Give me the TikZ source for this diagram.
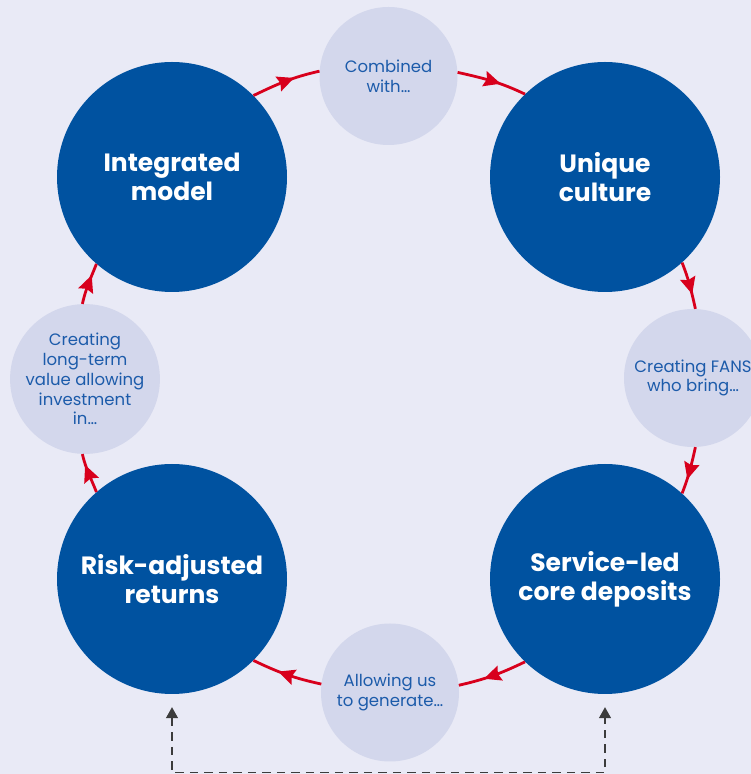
\documentclass[tikz,border=0pt]{standalone}
\usepackage{fontspec}
\setmainfont{Poppins}
\usetikzlibrary{arrows.meta,decorations.markings}
\definecolor{bgc}{HTML}{E9EAF6}
\definecolor{bigc}{HTML}{0052A0}
\definecolor{smallc}{HTML}{D3D7EC}
\definecolor{redc}{HTML}{D8001C}
\definecolor{txtc}{HTML}{1C5BAA}
\definecolor{dashc}{HTML}{3C3C3C}
\begin{document}
\begin{tikzpicture}[x=1pt,y=1pt,
  bignode/.style={circle,fill=bigc,minimum size=230pt,inner sep=0pt,text=white,align=center,
    font=\fontsize{25}{29.3}\selectfont\bfseries},
  smallnode/.style={circle,fill=smallc,minimum size=138pt,inner sep=0pt,text=txtc,align=center,
    font=\fontsize{16.5}{19.8}\selectfont},
  cyc/.style={draw=redc,line width=2.8pt,
    postaction={decorate,decoration={markings,
      mark=at position 0.5 with {\fill[redc] (9pt,0) -- (-8pt,8pt) -- (-5.5pt,0) -- (-8pt,-8pt) -- cycle;}}}},
  dashlink/.style={draw=dashc,line width=1.3pt,dash pattern=on 8.5pt off 6pt,
    {Triangle[length=11pt,width=12pt]}-{Triangle[length=11pt,width=12pt]}}
]
\useasboundingbox (0,0) rectangle (751,774);
\clip (0,0) rectangle (751,774);
\fill[bgc] (0,0) rectangle (751,774);

\node[bignode]   (int)   at (172,597)   {Integrated\\model};
\node[smallnode] (comb)  at (388.5,698) {Combined\\with…};
\node[bignode]   (uniq)  at (605,597)   {Unique\\culture};
\node[smallnode] (fans)  at (693,396)   {Creating FANS\\who bring…};
\node[bignode]   (serv)  at (605,195)   {Service-led\\core deposits};
\node[smallnode] (allow) at (390,81.5)  {Allowing us\\to generate…};
\node[bignode]   (risk)  at (172,195)   {Risk-adjusted\\returns};
\node[smallnode] (long)  at (85,395)    {Creating\\long-term\\value allowing\\investment\\in…};

\path[cyc] (int.45.4)    to[out=25.62,  in=192.67] (comb.176.6);
\path[cyc] (comb.3.4)    to[out=-12.67, in=154.38] (uniq.134.6);
\path[cyc] (uniq.-48.8)  to[out=-68.54, in=102.69] (fans.88.5);
\path[cyc] (fans.-88.5)  to[out=-102.69,in=68.64]  (serv.48.7);
\path[cyc] (serv.-134.3) to[out=-154.3, in=12.88]  (allow.6.7);
\path[cyc] (allow.173.8) to[out=167.66, in=-25.7]  (risk.-45.7);
\path[cyc] (risk.131.3)  to[out=111.36, in=-77.19] (long.-92.2);
\path[cyc] (long.92.5)   to[out=77.45,  in=248.54] (int.-131.2);

\coordinate (rs) at ([yshift=-13pt]risk.south);
\coordinate (ss) at ([yshift=-13pt]serv.south);
\path[dashlink] (rs) -- ([yshift=1.5pt]rs |- 0,0) -| (ss);
\end{tikzpicture}
\end{document}
